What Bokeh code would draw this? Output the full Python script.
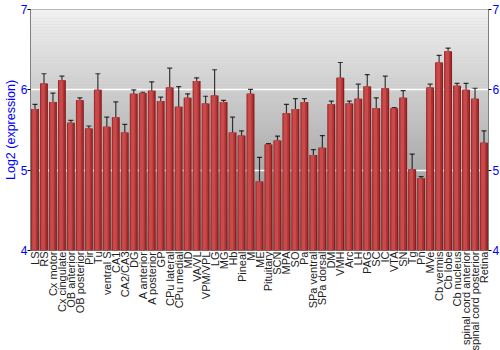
import numpy as np
from bokeh.plotting import figure
from bokeh.models import FactorRange, Range1d, LinearAxis, BoxAnnotation, ColumnDataSource, Whisker, TeeHead, FixedTicker
from bokeh.transform import dodge
from bokeh.embed import file_html
from bokeh.resources import INLINE

regions = ["LS", "RS", "Cx motor", "Cx cingulate", "OB anterior", "OB posterior", "Pir", "Tu",
           "ventral S", "CA1", "CA2/CA3", "DG", "A anterior", "A posterior", "GP", "CPu lateral",
           "CPu medial", "MD", "VA/VL", "VPM/VPL", "LG", "MG", "Hb", "Pineal", "M", "ME",
           "Pituitary", "SCN", "MPA", "SO", "Pa", "SPa ventral", "SPa dorsal", "DM", "VMH", "Arc",
           "LH", "PAG", "SC", "IC", "VTA", "SN", "Tg", "Pn", "MVe", "Cb vermis", "Cb lobe",
           "Cb nucleus", "spinal cord anterior", "spinal cord posterior", "Retina"]
expression = [5.76, 6.08, 5.85, 6.12, 5.59, 5.87, 5.52, 6.00,
              5.54, 5.66, 5.47, 5.95, 5.96, 5.99, 5.86, 6.03,
              5.79, 5.90, 6.11, 5.83, 5.93, 5.85, 5.47, 5.43, 5.95, 4.86,
              5.32, 5.37, 5.71, 5.76, 5.85, 5.19, 5.28, 5.82, 6.15, 5.83,
              5.89, 6.04, 5.77, 6.02, 5.77, 5.90, 5.01, 4.90, 6.03, 6.34, 6.48,
              6.05, 6.00, 5.89, 5.34]
error = [0.06, 0.12, 0.11, 0.05, 0.03, 0.03, 0.03, 0.20,
         0.12, 0.19, 0.10, 0.05, 0.01, 0.11, 0.05, 0.24,
         0.25, 0.05, 0.04, 0.09, 0.32, 0.02, 0.19, 0.06, 0.055, 0.30,
         0.01, 0.055, 0.11, 0.13, 0.04, 0.065, 0.15, 0.04, 0.19, 0.03,
         0.18, 0.15, 0.13, 0.15, 0.01, 0.09, 0.19, 0.02, 0.04, 0.09, 0.04,
         0.03, 0.08, 0.13, 0.15]
y_ticks = [4, 5, 6, 7]

ymin, ymax = y_ticks[0], y_ticks[-1]
src = ColumnDataSource(dict(
    x=regions, top=expression,
    upper=[v + e for v, e in zip(expression, error)],
    lower=[v - e for v, e in zip(expression, error)],
))

p = figure(frame_width=458, frame_height=241, x_range=FactorRange(*regions), y_range=Range1d(ymin, ymax),
           output_backend="svg", toolbar_location=None,
           min_border_left=0, min_border_right=0, min_border_top=9, min_border_bottom=0)

# gradient background
n = 80
edges = np.linspace(ymin, ymax, n + 1)
for i in range(n):
    t = (i + 0.5) / n  # 0 bottom -> 1 top
    c = int(round(135 + (241 - 135) * t))
    p.add_layout(BoxAnnotation(bottom=edges[i], top=edges[i + 1] + 0.005,
                               fill_color=(c, c, c), fill_alpha=1.0, line_alpha=0,
                               level="image"))

p.xgrid.grid_line_color = None
p.ygrid.grid_line_color = "white"
p.ygrid.grid_line_width = 1.5
p.ygrid.ticker = FixedTicker(ticks=[5, 6])

# bars with faux gradient
p.vbar(x="x", top="top", bottom=ymin, width=0.88, source=src, fill_color="#861f1f", line_color=None)
p.vbar(x=dodge("x", -0.05, range=p.x_range), top="top", bottom=ymin, width=0.7, source=src,
       fill_color="#b03232", line_color=None)
p.vbar(x=dodge("x", -0.1, range=p.x_range), top="top", bottom=ymin, width=0.4, source=src,
       fill_color="#c84a4a", line_color=None)

w = Whisker(base="x", upper="upper", lower="lower", source=src, line_color="black",
            line_alpha=0.75, line_width=1.2)
w.upper_head = TeeHead(size=5, line_color="black", line_alpha=0.75, line_width=1.2)
w.lower_head = TeeHead(size=5, line_color="black", line_alpha=0.75, line_width=1.2)
p.add_layout(w)

font = "Liberation Sans"
# left axis
ya = p.yaxis[0]
ya.ticker = FixedTicker(ticks=y_ticks)
ya.minor_tick_line_color = None
ya.major_tick_line_color = "black"
ya.major_tick_in = 0
ya.major_tick_out = 3
ya.axis_line_color = "#808080"
ya.major_label_text_color = "blue"
ya.major_label_text_font = font
ya.major_label_text_font_size = "12px"
ya.major_label_standoff = 0
ya.axis_label = "Log2 (expression)"
ya.axis_label_text_color = "blue"
ya.axis_label_text_font = font
ya.axis_label_text_font_style = "normal"
ya.axis_label_text_font_size = "12.5px"
ya.axis_label_standoff = 0

ra = LinearAxis(ticker=FixedTicker(ticks=y_ticks))
ra.minor_tick_line_color = None
ra.major_tick_line_color = "black"
ra.major_tick_in = 0
ra.major_tick_out = 3
ra.axis_line_color = "#808080"
ra.major_label_text_color = "blue"
ra.major_label_text_font = font
ra.major_label_text_font_size = "12px"
ra.major_label_standoff = 1
p.add_layout(ra, "right")

xa = p.xaxis[0]
xa.major_label_orientation = np.pi / 2
xa.major_label_text_font = font
xa.major_label_text_font_size = "11px"
xa.major_label_text_color = "#222222"
xa.major_tick_line_color = None
xa.major_tick_in = 0
xa.major_tick_out = 0
xa.axis_line_color = None
xa.major_label_standoff = 1

p.outline_line_color = "#808080"
p.background_fill_color = "#bbbbbb"
p.border_fill_color = "white"

open("out.html", "w").write(file_html(p, INLINE))
